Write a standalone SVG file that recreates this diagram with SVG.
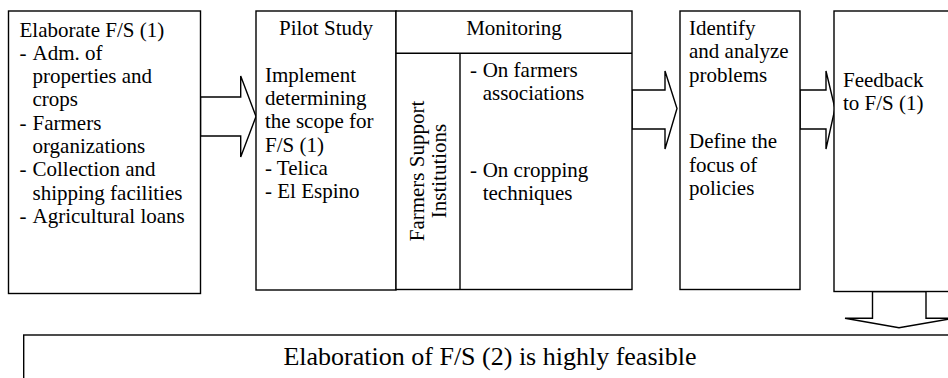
<svg xmlns="http://www.w3.org/2000/svg" width="948" height="378" viewBox="0 0 948 378">
  <style>
    .box { fill: #ffffff; stroke: #000000; stroke-width: 1.4; }
    .rule { fill: none; stroke: #000000; stroke-width: 1.4; }
    .arrow { fill: #ffffff; stroke: #000000; stroke-width: 1.4; stroke-linejoin: miter; }
    text { font-family: 'Liberation Serif', 'DejaVu Serif', serif; font-size: 21px; fill: #000000; }
    .mid { text-anchor: middle; }
    .big { font-size: 26px; }
  </style>
  <rect width="948" height="378" fill="#ffffff"/>

  <!-- block arrows between stages -->
  <g id="connectors">
    <polygon class="arrow" points="200.5,97 240.7,97 240.7,76 256,116.5 240.7,157 240.7,136 200.5,136"/>
    <polygon class="arrow" points="632,90 665,90 665,71 677,108.5 665,149 665,129 632,129"/>
    <polygon class="arrow" points="800,90 826,90 826,71 835,108.5 826,149 826,129 800,129"/>
    <polygon class="arrow" points="872.5,291.5 872.5,318.3 845,318.3 899,327.7 953,318.3 926,318.3 926,291.5"/>
  </g>

  <g id="elaborate-fs1" font-family="Liberation Serif, serif">
    <rect class="box" x="8.5" y="11" width="192" height="282.5"/>
    <text x="19.5" y="36.5">Elaborate F/S (1)</text>
    <text><tspan x="19.5" y="59.8">-</tspan><tspan x="32.5">Adm. of</tspan></text>
    <text x="32.5" y="83.1">properties and</text>
    <text x="32.5" y="106.4">crops</text>
    <text><tspan x="19.5" y="129.7">-</tspan><tspan x="32.5">Farmers</tspan></text>
    <text x="32.5" y="153">organizations</text>
    <text><tspan x="19.5" y="176.3">-</tspan><tspan x="32.5">Collection and</tspan></text>
    <text x="32.5" y="199.6">shipping facilities</text>
    <text><tspan x="19.5" y="222.9">-</tspan><tspan x="32.5">Agricultural loans</tspan></text>
  </g>

  <g id="pilot-study">
    <rect class="box" x="256" y="11" width="140" height="279"/>
    <text class="mid" x="326" y="35">Pilot Study</text>
    <text x="265" y="81.7">Implement</text>
    <text x="265" y="105">determining</text>
    <text x="265" y="128.3">the scope for</text>
    <text x="265" y="151.6">F/S (1)</text>
    <text x="265" y="175">- Telica</text>
    <text x="265" y="198.3">- El Espino</text>
  </g>

  <g id="monitoring">
    <rect class="box" x="396" y="11" width="236" height="278.5"/>
    <line class="rule" x1="396" y1="53.3" x2="632" y2="53.3"/>
    <line class="rule" x1="460" y1="53.3" x2="460" y2="289.5"/>
    <text class="mid" x="514" y="35">Monitoring</text>
    <text class="mid" transform="translate(424,171) rotate(-90)">Farmers Support</text>
    <text class="mid" transform="translate(445.7,171) rotate(-90)">Institutions</text>
    <text><tspan x="470" y="77">-</tspan><tspan x="482.7">On farmers</tspan></text>
    <text x="482.7" y="100.3">associations</text>
    <text><tspan x="470" y="177">-</tspan><tspan x="482.7">On cropping</tspan></text>
    <text x="482.7" y="200.3">techniques</text>
  </g>

  <g id="identify-problems">
    <rect class="box" x="680" y="11" width="120" height="278.5"/>
    <text x="689" y="35">Identify</text>
    <text x="689" y="58.3">and analyze</text>
    <text x="689" y="81.6">problems</text>
    <text x="689" y="148.3">Define the</text>
    <text x="689" y="171.6">focus of</text>
    <text x="689" y="194.9">policies</text>
  </g>

  <g id="feedback">
    <rect class="box" x="834" y="11" width="130" height="280.5"/>
    <text x="843" y="86.5">Feedback</text>
    <text x="843" y="109.8">to F/S (1)</text>
  </g>

  <g id="conclusion">
    <rect class="box" x="23.7" y="335" width="940" height="60"/>
    <text class="mid big" x="490" y="365">Elaboration of F/S (2) is highly feasible</text>
  </g>
</svg>
